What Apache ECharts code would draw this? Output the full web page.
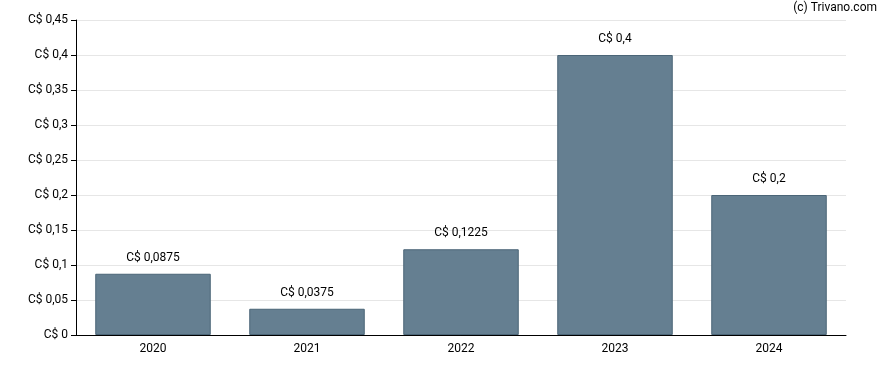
<!DOCTYPE html>
<html><head><meta charset="utf-8">
<script src="https://cdn.jsdelivr.net/npm/echarts@6/dist/echarts.min.js"></script>
<style>html,body{margin:0;padding:0;background:#fff}#c{width:888px;height:370px}</style>
</head><body><div id="c"></div>
<script>
const categories = ['2020', '2021', '2022', '2023', '2024'];
const values = [0.0875, 0.0375, 0.1225, 0.4, 0.2];
const yTicks = [0, 0.05, 0.1, 0.15, 0.2, 0.25, 0.3, 0.35, 0.4, 0.45];

const fmt = v => 'C$ ' + String(+v.toFixed(4)).replace('.', ',');
const chart = echarts.init(document.getElementById('c'), null, {renderer: 'canvas'});
chart.setOption({
  animation: false,
  textStyle: {fontFamily: 'Roboto'},
  graphic: [{type: 'text', right: 11, top: 2, style: {text: '(c) Trivano.com', font: '12px Roboto', fill: '#000'}}],
  grid: {left: 76, right: 42, top: 20, bottom: 35},
  xAxis: {
    type: 'category', data: categories,
    axisLine: {lineStyle: {color: '#000', width: 1}},
    axisTick: {alignWithLabel: true, length: 5, lineStyle: {color: '#000'}},
    axisLabel: {color: '#000', fontSize: 12, margin: 8}
  },
  yAxis: {
    type: 'value', min: 0, max: 0.45, interval: 0.05,
    axisLine: {show: true, lineStyle: {color: '#000'}},
    axisTick: {show: true, length: 5, lineStyle: {color: '#000'}},
    axisLabel: {color: '#000', fontSize: 12, margin: 8, formatter: v => fmt(v)},
    splitLine: {lineStyle: {color: '#e6e6e6'}}
  },
  series: [{
    type: 'bar', data: values, barWidth: '75%',
    itemStyle: {color: '#657f91', borderColor: '#4b6577', borderWidth: 1},
    label: {show: true, position: 'top', distance: 10, color: '#000', fontSize: 12, formatter: p => fmt(p.value)}
  }]
});
</script></body></html>
